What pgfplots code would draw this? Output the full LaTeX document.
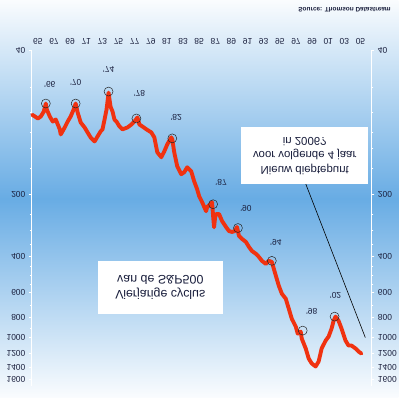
\documentclass[border=0pt]{standalone}
\usepackage{pgfplots}
\pgfplotsset{compat=1.18}
\usepackage{fontspec}
\setmainfont{Liberation Sans}
\definecolor{lred}{RGB}{240,50,16}
\definecolor{labcol}{RGB}{25,30,60}
\definecolor{bgTop}{RGB}{250,252,254}
\definecolor{bgMid}{RGB}{104,172,228}
\definecolor{bgBot}{RGB}{250,252,254}
\tikzset{flab/.style={font=\fontsize{8.5}{9}\selectfont, text=labcol, yscale=-1}}
\begin{document}
\begin{tikzpicture}[x=1bp,y=1bp]
\shade[top color=bgTop, bottom color=bgBot, middle color=bgMid] (0,0) rectangle (400,399);
\begin{axis}[
    at={(32bp,18bp)}, anchor=south west, scale only axis,
    width=341bp, height=330bp,
    xmin=1964.26, xmax=2006.36,
    ymode=log, ymin=40, ymax=1600, y dir=reverse,
    axis line style={draw=none},
    ytick={40,200,400,600,800,1000,1200,1400,1600},
    yticklabels={40,200,400,600,800,1000,1200,1400,1600},
    minor ytick={60,80,100,120,150,250,300,350,450,500,550,700,900},
    tick align=outside,
    major tick length=3bp, minor tick length=2bp,
    ytick style={white, line width=0.8bp},
    minor tick style={white, line width=0.6bp},
    yticklabel style={flab},
    clip=false,
    yticklabel pos=left,
    xtick={1965,1967,...,2005},
    xticklabels={65,67,69,71,73,75,77,79,81,83,85,87,89,91,93,95,97,99,01,03,05},
    xticklabel pos=upper,
    xtick style={draw=none},
    xticklabel style={flab, anchor=north},
  ]
\draw[white, line width=1.2bp] (rel axis cs:0,-0.02) -- (rel axis cs:0,1);
\draw[white, line width=1.2bp] (rel axis cs:1,-0.02) -- (rel axis cs:1,1);
\addplot[lred, line width=3.9bp, line join=round, line cap=round] coordinates {
(1964.3,82) (1964.63,83.6) (1965.0,85.5) (1965.37,83.6) (1965.74,79.1) (1965.99,72.3)
(1966.11,77.3) (1966.48,83.6) (1966.85,88.5) (1967.22,86.5) (1967.72,96.6) (1967.84,102.3)
(1968.33,94.6) (1968.70,88.5) (1969.07,83.6) (1969.44,77.3) (1969.69,72.3) (1969.94,80.0)
(1970.31,89.4) (1970.80,94.6) (1971.17,100) (1971.54,105.7) (1972.04,110.6) (1972.41,104.5)
(1972.78,98.9) (1973.02,96.6) (1973.27,86.5) (1973.52,77.3) (1973.77,64.0) (1974.01,74.8)
(1974.26,79.1) (1974.5,86.5) (1974.75,88.5) (1975.12,93.5) (1975.49,96.6) (1976.11,94.6)
(1976.60,91.5) (1976.98,88.5) (1977.35,84.5) (1977.59,91.5) (1977.96,93.5) (1978.46,96.6)
(1979.07,100) (1979.44,105.7) (1979.81,125.0) (1980.31,132.1) (1980.68,123.6) (1981.05,114.3)
(1981.54,105.7) (1981.67,108.1) (1981.91,125.0) (1982.28,146.2) (1982.78,159.9) (1983.15,156.3)
(1983.52,147.9) (1984.01,154.5) (1984.38,173) (1984.75,189.2) (1985.00,204.6) (1985.37,218.8)
(1985.86,242.1) (1985.99,231.2) (1986.36,223.9) (1986.60,218.8) (1986.73,255.9) (1986.85,290)
(1986.98,258.8) (1987.10,250) (1987.47,250) (1987.84,270.4) (1988.33,289.1) (1988.70,302.7)
(1989.07,305.5) (1989.44,302.7) (1989.69,289.1) (1989.94,319.9) (1990.31,330.4) (1990.80,342)
(1991.17,361.4) (1991.54,378.4) (1992.04,390.8) (1992.41,404.6) (1992.78,422.7) (1993.27,437.5)
(1993.64,422.7) (1994.01,427.6) (1994.26,462.4) (1994.51,500) (1994.88,559.8) (1995.25,611)
(1995.74,647.1) (1996.11,722.8) (1996.48,809.1) (1996.98,885.1) (1997.22,957.2) (1997.59,935.4)
(1997.72,1011.6) (1998.21,1130) (1998.58,1265) (1998.95,1337) (1999.44,1384) (1999.81,1309)
(2000.19,1130) (2000.68,1035) (2001.05,988.6) (2001.42,903.6) (2001.67,827.9) (2001.91,790.7)
(2002.28,827.9) (2002.65,903.6) (2003.15,1035) (2003.52,1094) (2003.89,1094) (2004.38,1130)
(2004.75,1169) (2005.12,1197)
};
\addplot[only marks, mark=o, mark size=4.5bp, mark options={draw=black!85, line width=0.5bp}] coordinates {
(1965.99,72.3) (1969.69,72.3) (1973.77,63.2) (1977.22,85.5) (1981.67,106.9)
(1986.73,223.9) (1989.81,292.4) (1994.01,422.7) (1997.84,924.8) (2001.79,790.7)
};
\addplot[black, line width=0.6bp] coordinates {(1998.21,178) (2005.6,1000)};
\node[flab] at (axis cs:1966.48,58.5) {'66};
\node[flab] at (axis cs:1969.69,57.2) {'70};
\node[flab] at (axis cs:1973.77,49.4) {'74};
\node[flab] at (axis cs:1977.59,64.7) {'78};
\node[flab] at (axis cs:1982.16,84.5) {'82};
\node[flab] at (axis cs:1987.72,175) {'87};
\node[flab] at (axis cs:1990.80,234) {'90};
\node[flab] at (axis cs:1994.51,342) {'94};
\node[flab] at (axis cs:1998.95,748) {'98};
\node[flab] at (axis cs:2001.91,625) {'02};
\end{axis}
\begin{axis}[
    at={(32bp,18bp)}, anchor=south west, scale only axis,
    width=341bp, height=330bp,
    xmin=1964.26, xmax=2006.36,
    ymode=log, ymin=40, ymax=1600, y dir=reverse,
    axis line style={draw=none},
    ytick={40,200,400,600,800,1000,1200,1400,1600},
    yticklabels={40,200,400,600,800,1000,1200,1400,1600},
    minor ytick={60,80,100,120,150,250,300,350,450,500,550,700,900},
    tick align=outside,
    major tick length=3bp, minor tick length=2bp,
    ytick style={white, line width=0.8bp},
    minor tick style={white, line width=0.6bp},
    yticklabel style={flab},
    yticklabel pos=right,
    xtick=\empty,
  ]
\end{axis}
\fill[white] (98,84) rectangle (224,137);
\node[yscale=-1, align=center, font=\fontsize{12.5}{15}\selectfont, text=labcol] at (161,110.5) {Vierjarige cyclus\\van de S\&P500};
\fill[white] (242,214) rectangle (370,271);
\node[yscale=-1, align=center, font=\fontsize{11.5}{14.5}\selectfont, text=labcol] at (306,242.5) {Nieuw dieptepunt\\voor volgende 4 jaar\\in 2006?};
\node[yscale=-1, anchor=center, font=\fontsize{6.5}{7}\selectfont\bfseries, text=labcol] at (346,389) {Source: Thomson Datastream};
\end{tikzpicture}
\end{document}
